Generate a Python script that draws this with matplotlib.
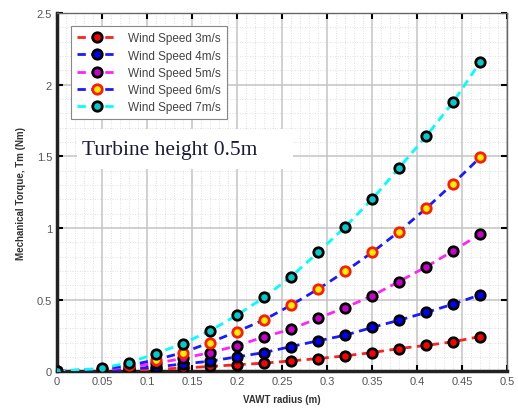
import matplotlib
matplotlib.use("Agg")
import matplotlib.pyplot as plt
from matplotlib.ticker import MultipleLocator
from matplotlib.patches import Rectangle

radius = [0, 0.05, 0.08, 0.11, 0.14, 0.17, 0.20, 0.23, 0.26, 0.29, 0.32, 0.35, 0.38, 0.41, 0.44, 0.47]
torque_3 = [0, 0.003, 0.007, 0.013, 0.022, 0.033, 0.045, 0.056, 0.072, 0.088, 0.107, 0.130, 0.158, 0.180, 0.205, 0.242]
torque_4 = [0, 0.005, 0.015, 0.030, 0.050, 0.070, 0.100, 0.130, 0.172, 0.212, 0.251, 0.305, 0.356, 0.410, 0.468, 0.533]
torque_5 = [0, 0.010, 0.030, 0.055, 0.090, 0.130, 0.177, 0.240, 0.293, 0.370, 0.444, 0.526, 0.626, 0.728, 0.840, 0.957]
torque_6 = [0, 0.015, 0.040, 0.080, 0.130, 0.200, 0.277, 0.358, 0.461, 0.573, 0.696, 0.829, 0.975, 1.136, 1.310, 1.492]
torque_7 = [0, 0.020, 0.060, 0.123, 0.193, 0.282, 0.391, 0.515, 0.659, 0.829, 1.007, 1.200, 1.420, 1.640, 1.878, 2.158]
labels = ["Wind Speed 3m/s", "Wind Speed 4m/s", "Wind Speed 5m/s", "Wind Speed 6m/s", "Wind Speed 7m/s"]
xlabel = "VAWT radius (m)"
ylabel = "Mechanical Torque, Tm (Nm)"
note = "Turbine height 0.5m"

series = [torque_3, torque_4, torque_5, torque_6, torque_7]
line_colors = ["#ff2020", "#1a1aff", "#ff22ff", "#1a1aff", "#00ffff"]
face_colors = ["#ff0000", "#0000ff", "#cc00cc", "#ffee00", "#00cccc"]
edge_colors = ["black", "black", "black", "#ff1a00", "black"]

plt.rcParams['font.family'] = ['Liberation Sans', 'DejaVu Sans']
fig = plt.figure(figsize=(5.18, 4.14), dpi=100)
ax = fig.add_axes([0.110, 0.101, 0.869, 0.865])

for ys, lc, fc, ec, lab in zip(series, line_colors, face_colors, edge_colors, labels):
    ax.plot(radius, ys, linestyle=(0, (3, 2)), color=lc, linewidth=2,
            marker='o', markersize=6.8, markerfacecolor=fc, markeredgecolor=ec,
            markeredgewidth=2.0, label=lab, zorder=3)

ax.set_xlim(0, 0.5)
ax.set_ylim(0, 2.5)
ax.xaxis.set_minor_locator(MultipleLocator(0.01))
ax.yaxis.set_minor_locator(MultipleLocator(0.1))
ax.set_xticks([0, 0.05, 0.1, 0.15, 0.2, 0.25, 0.3, 0.35, 0.4, 0.45, 0.5])
ax.set_xticklabels(["0", "0.05", "0.1", "0.15", "0.2", "0.25", "0.3", "0.35", "0.4", "0.45", "0.5"])
ax.set_yticks([0, 0.5, 1, 1.5, 2, 2.5])
ax.set_yticklabels(["0", "0.5", "1", "1.5", "2", "2.5"])
ax.grid(which='major', color='#c4c4c4', linewidth=1.1)
ax.grid(which='minor', color='#d6d6d6', linewidth=0.6, linestyle=(0, (1, 2)))
ax.set_axisbelow(True)
ax.tick_params(which='both', direction='in', top=True, right=True, labelsize=8,
               labelcolor='#555555', length=4, width=1.5)
ax.tick_params(which='minor', length=0)
for s in ['left', 'bottom']:
    ax.spines[s].set_linewidth(2.5)
    ax.spines[s].set_color('#222222')
for s in ['top', 'right']:
    ax.spines[s].set_linewidth(1.0)
    ax.spines[s].set_color('#666666')

ax.set_xlabel(xlabel, fontsize=7, fontweight='bold', color='#333333', labelpad=6)
ax.set_ylabel(ylabel, fontsize=7, fontweight='bold', color='#333333', labelpad=8)

leg = ax.legend(loc='upper left', bbox_to_anchor=(0.032, 0.963), fontsize=8.5,
                handlelength=3.4, frameon=True, fancybox=False, edgecolor='#888888',
                framealpha=1, borderpad=0.5, labelspacing=0.45, handletextpad=0.9,
                borderaxespad=0)
leg.get_frame().set_linewidth(0.8)
for t in leg.get_texts():
    t.set_color('#444444')

ax.add_patch(Rectangle((0.022, 1.41), 0.24, 0.28, facecolor='white', edgecolor='none', zorder=2.5))
ax.text(0.028, 1.545, note, fontsize=15.5, family=['Liberation Serif', 'DejaVu Serif'],
        color='#1a1a3a', va='center', ha='left', zorder=4)

fig.savefig("out.png", dpi=100)
